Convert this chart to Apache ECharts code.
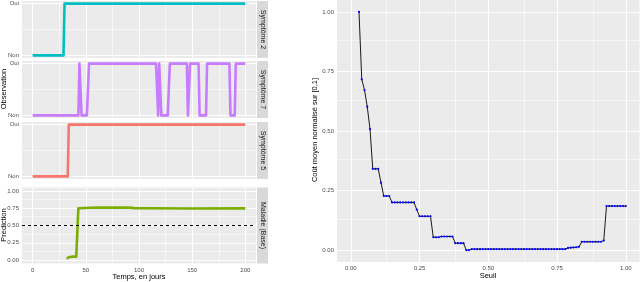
<!DOCTYPE html>
<html><head><meta charset="utf-8">
<script src="https://cdn.jsdelivr.net/npm/echarts@6/dist/echarts.min.js"></script>
<style>html,body{margin:0;padding:0;background:#fff}#c{width:640px;height:282px}</style>
</head><body><div id="c"></div>
<script>
// ---------- data ----------
const timeTicks = [0, 50, 100, 150, 200];
const timeMinor = [25, 75, 125, 175];
const obsTicks = [0, 1];
const obsLabels = ['Non', 'Oui'];
const predTicks = [0, 0.25, 0.5, 0.75, 1];
const predMinor = [0.125, 0.375, 0.625, 0.875];
const seuilTicks = [0, 0.25, 0.5, 0.75, 1];
const seuilMinor = [0.125, 0.375, 0.625, 0.875];
const coutTicks = [0, 0.25, 0.5, 0.75, 1];
const coutMinor = [0.125, 0.375, 0.625, 0.875];
const panelNames = ['Symptôme 2', 'Symptôme 7', 'Symptôme 5', 'Maladie (Base)'];
const threshold = 0.5;

// observations (day, 0 = Non / 1 = Oui)
const sym2 = [[0,0],[29,0],[30,1],[200,1]];
const sym7 = [[0,0],[43,0],[44,1],[45,1],[46,0],[51,0],[53,1],[116,1],[118,0],[119,1],[120,1],[121,0],[127,0],[129,1],[145,1],[146,0],[147,0],[148,1],[156,1],[157,0],[163,0],[164,1],[185,1],[186,0],[190,0],[191,1],[200,1]];
const sym5 = [[0,0],[33,0],[34,1],[200,1]];
// predicted probability
const prediction = [[32,0.02],[33,0.02],[34,0.04],[35,0.05],[38,0.05],[41,0.05],[42,0.06],[43,0.75],[44,0.758],[60,0.76],[80,0.758],[90,0.76],[94,0.755],[95,0.745],[96,0.75],[110,0.75],[150,0.747],[200,0.748]];

// cost curve
const seuil = [0.03,0.04,0.05,0.06,0.07,0.08,0.09,0.10,0.11,0.12,0.13,0.14,0.15,0.16,0.17,0.18,0.19,0.20,0.21,0.22,0.23,0.24,0.25,0.26,0.27,0.28,0.29,0.30,0.31,0.32,0.33,0.34,0.35,0.36,0.37,0.38,0.39,0.40,0.41,0.42,0.43,0.44,0.45,0.46,0.47,0.48,0.49,0.50,0.51,0.52,0.53,0.54,0.55,0.56,0.57,0.58,0.59,0.60,0.61,0.62,0.63,0.64,0.65,0.66,0.67,0.68,0.69,0.70,0.71,0.72,0.73,0.74,0.75,0.76,0.77,0.78,0.79,0.80,0.81,0.82,0.83,0.84,0.85,0.86,0.87,0.88,0.89,0.90,0.91,0.92,0.93,0.94,0.95,0.96,0.97,0.98,0.99,1.00];
const cout = [1.000,0.717,0.672,0.602,0.508,0.341,0.341,0.341,0.283,0.227,0.227,0.227,0.200,0.200,0.200,0.200,0.200,0.200,0.200,0.200,0.200,0.170,0.142,0.142,0.142,0.142,0.142,0.054,0.054,0.054,0.057,0.057,0.057,0.057,0.057,0.029,0.029,0.029,0.029,0.000,0.000,0.004,0.004,0.004,0.004,0.004,0.004,0.004,0.004,0.004,0.004,0.004,0.004,0.004,0.004,0.004,0.004,0.004,0.004,0.004,0.004,0.004,0.004,0.004,0.004,0.004,0.004,0.004,0.004,0.004,0.004,0.004,0.004,0.004,0.004,0.004,0.009,0.010,0.011,0.012,0.014,0.035,0.035,0.035,0.035,0.035,0.035,0.035,0.035,0.040,0.185,0.185,0.185,0.185,0.185,0.185,0.185,0.185,0.185];

// ---------- styling / layout ----------
const FONT = 'Liberation Sans, Arial, sans-serif';
const PANEL_BG = '#EBEBEB';
const colors = ['#00BFC4', '#C77CFF', '#F8766D', '#7CAE00'];
const leftGrids = [
  {left: 22, width: 234, top: 1, height: 57},
  {left: 22, width: 234, top: 61, height: 57},
  {left: 22, width: 234, top: 122, height: 57},
  {left: 22, width: 234, top: 187.5, height: 76}
];
const rightGrid = {left: 337, width: 302.5, top: -1, height: 263};

const grids = leftGrids.concat([rightGrid]).map(g => Object.assign({show: true, backgroundColor: PANEL_BG, borderWidth: 0, containLabel: false}, g));

const labelStyle = {fontSize: 6, color: '#4D4D4D', fontFamily: FONT};
const tickStyle = {show: true, length: 2, lineStyle: {color: '#333', width: 0.8}};

const xAxes = [], yAxes = [];
for (let i = 0; i < 4; i++) {
  const bottom = i === 3;
  xAxes.push({
    type: 'value', gridIndex: i, min: -10, max: 210,
    axisLine: {show: false}, splitLine: {show: false},
    axisTick: bottom ? Object.assign({customValues: timeTicks}, tickStyle) : {show: false},
    axisLabel: bottom ? Object.assign({show: true, margin: 3.5, customValues: timeTicks, formatter: v => String(v)}, labelStyle) : {show: false}
  });
  yAxes.push({
    type: 'value', gridIndex: i, min: -0.05, max: 1.05,
    axisLine: {show: false}, splitLine: {show: false},
    axisTick: Object.assign({customValues: bottom ? predTicks : obsTicks}, tickStyle),
    axisLabel: Object.assign({show: true, margin: 3, customValues: bottom ? predTicks : obsTicks,
      formatter: bottom ? (v => v.toFixed(2)) : (v => obsLabels[obsTicks.indexOf(Math.round(v))])}, labelStyle)
  });
}
xAxes.push({
  type: 'value', gridIndex: 4, min: -0.05, max: 1.05,
  axisLine: {show: false}, splitLine: {show: false},
  axisTick: Object.assign({customValues: seuilTicks}, tickStyle),
  axisLabel: Object.assign({show: true, margin: 3.5, customValues: seuilTicks, formatter: v => v.toFixed(2)}, labelStyle)
});
yAxes.push({
  type: 'value', gridIndex: 4, min: -0.05, max: 1.05,
  axisLine: {show: false}, splitLine: {show: false},
  axisTick: Object.assign({customValues: coutTicks}, tickStyle),
  axisLabel: Object.assign({show: true, margin: 3, customValues: coutTicks, formatter: v => v.toFixed(2)}, labelStyle)
});

function gridLines(idx, xMajor, xMinor, yMajor, yMinor) {
  const maj = {color: '#FFFFFF', width: 1.1, type: 'solid'};
  const min = {color: '#FFFFFF', width: 0.55, type: 'solid'};
  const data = [];
  xMinor.forEach(v => data.push({xAxis: v, lineStyle: min}));
  yMinor.forEach(v => data.push({yAxis: v, lineStyle: min}));
  xMajor.forEach(v => data.push({xAxis: v, lineStyle: maj}));
  yMajor.forEach(v => data.push({yAxis: v, lineStyle: maj}));
  return {
    type: 'line', xAxisIndex: idx, yAxisIndex: idx, data: [], z: 1, silent: true,
    markLine: {z: 1, silent: true, symbol: ['none', 'none'], label: {show: false}, animation: false, data: data}
  };
}

const series = [];
series.push(gridLines(0, timeTicks, timeMinor, obsTicks, [0.5]));
series.push(gridLines(1, timeTicks, timeMinor, obsTicks, [0.5]));
series.push(gridLines(2, timeTicks, timeMinor, obsTicks, [0.5]));
series.push(gridLines(3, timeTicks, timeMinor, predTicks, predMinor));
series.push(gridLines(4, seuilTicks, seuilMinor, coutTicks, coutMinor));

[sym2, sym7, sym5].forEach((d, i) => {
  series.push({type: 'line', xAxisIndex: i, yAxisIndex: i, data: d, showSymbol: false, z: 3,
    lineStyle: {color: colors[i], width: 2.6, join: 'round'}, animation: false});
});
series.push({type: 'line', xAxisIndex: 3, yAxisIndex: 3, data: prediction, showSymbol: false, z: 3,
  lineStyle: {color: colors[3], width: 2.6, join: 'round'}, animation: false});
series.push({type: 'line', xAxisIndex: 3, yAxisIndex: 3, data: [], z: 4, silent: true,
  markLine: {z: 6, silent: true, symbol: ['none','none'], label: {show: false}, animation: false,
    data: [{yAxis: threshold, lineStyle: {color: '#000', width: 1, type: [3, 3]}}]}});
series.push({type: 'line', xAxisIndex: 4, yAxisIndex: 4, data: seuil.map((s, i) => [s, cout[i]]), z: 3,
  showSymbol: true, symbol: 'circle', symbolSize: 2.2, itemStyle: {color: '#0000FF'},
  lineStyle: {color: '#1a1a1a', width: 1}, animation: false});

const graphic = [];
leftGrids.forEach((g, i) => {
  graphic.push({type: 'rect', shape: {x: 257, y: g.top, width: 11, height: g.height}, style: {fill: '#D9D9D9'}, silent: true});
  graphic.push({type: 'text', x: 262.5, y: g.top + g.height / 2, rotation: -Math.PI / 2,
    style: {text: panelNames[i], fontSize: 7, fill: '#1A1A1A', fontFamily: FONT, align: 'center', verticalAlign: 'middle'}, silent: true});
});
const titleStyle = {fontSize: 7.5, fill: '#000', fontFamily: FONT, align: 'center', verticalAlign: 'middle'};
graphic.push({type: 'text', x: 3.5, y: 89, rotation: Math.PI / 2, style: Object.assign({text: 'Observation'}, titleStyle)});
graphic.push({type: 'text', x: 3.5, y: 225, rotation: Math.PI / 2, style: Object.assign({text: 'Prediction'}, titleStyle)});
graphic.push({type: 'text', x: 139, y: 276.5, style: Object.assign({text: 'Temps, en jours'}, titleStyle)});
graphic.push({type: 'text', x: 488, y: 276, style: Object.assign({text: 'Seuil'}, titleStyle)});
graphic.push({type: 'text', x: 314.5, y: 130, rotation: Math.PI / 2, style: Object.assign({text: 'Coût moyen normalisé sur [0,1]'}, titleStyle)});

const chart = echarts.init(document.getElementById('c'), null, {renderer: 'canvas'});
chart.setOption({
  animation: false,
  backgroundColor: '#FFFFFF',
  textStyle: {fontFamily: FONT},
  grid: grids, xAxis: xAxes, yAxis: yAxes, series: series, graphic: graphic
});
</script>
</body></html>
